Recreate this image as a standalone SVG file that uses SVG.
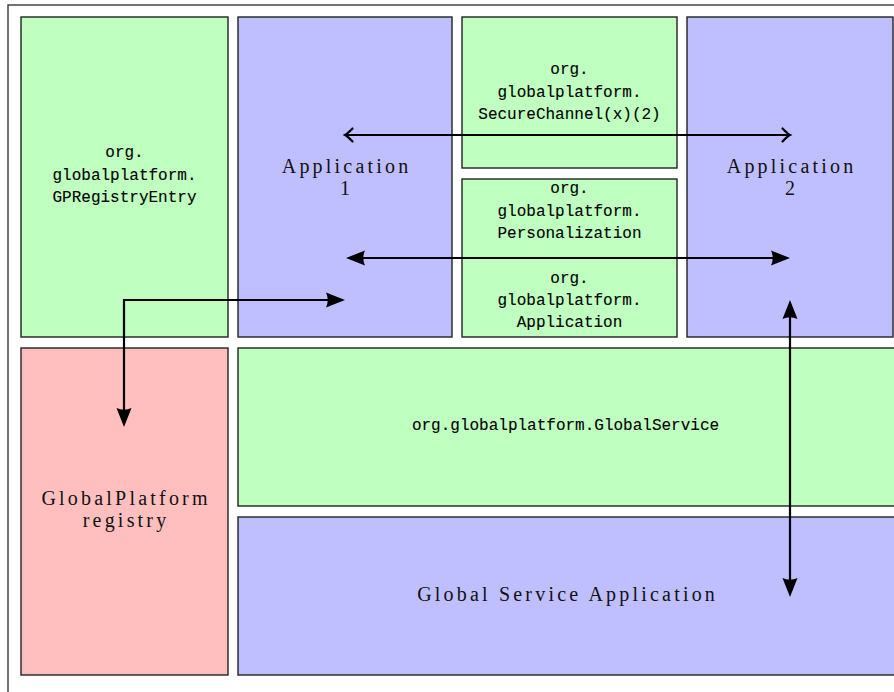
<svg xmlns="http://www.w3.org/2000/svg" width="894" height="692" viewBox="0 0 894 692">
<defs>
<style>
.box{stroke:#222;stroke-width:1.4}
.g{fill:#bfffbf}
.b{fill:#bfbfff}
.r{fill:#ffbfbf}
.tt{font-family:"Liberation Mono","DejaVu Sans Mono",monospace;font-size:16px;fill:#000;stroke:#000;stroke-width:0.1;text-anchor:middle}
.rm{font-family:"Liberation Serif","DejaVu Serif",serif;font-size:20px;fill:#111;text-anchor:middle;letter-spacing:3.2px}
.conn{fill:none;stroke:#000;stroke-width:2.2}
</style>
<marker id="open" markerUnits="userSpaceOnUse" markerWidth="20" markerHeight="20" refX="0" refY="0" viewBox="-10 -10 20 20" orient="auto-start-reverse" overflow="visible">
<path d="M-6.5,-6.5 Q-1.5,-1.3 1,0 Q-1.5,1.3 -6.5,6.5" fill="none" stroke="#000" stroke-width="2.2" stroke-linecap="round"/>
</marker>
<marker id="latex" markerUnits="userSpaceOnUse" markerWidth="30" markerHeight="30" refX="0" refY="0" viewBox="-20 -10 30 20" orient="auto-start-reverse" overflow="visible">
<path d="M6,0 L-13,-7.5 Q-9.5,0 -13,7.5 Z" fill="#000"/>
</marker>
</defs>
<rect x="8" y="5" width="892" height="695" fill="#fff" stroke="#444" stroke-width="1.5"/>

<g id="gpregistryentry">
<rect class="box g" x="21" y="17" width="207" height="320"/>
<text class="tt" x="124.5" y="157">org.</text>
<text class="tt" x="124.5" y="180">globalplatform.</text>
<text class="tt" x="124.5" y="202">GPRegistryEntry</text>
</g>
<g id="application1">
<rect class="box b" x="238" y="17" width="214" height="320"/>
<text class="rm" x="346.6" y="173">Application</text>
<text class="rm" x="346.6" y="195">1</text>
</g>
<g id="securechannel">
<rect class="box g" x="462" y="17" width="215" height="151"/>
<text class="tt" x="569.5" y="74">org.</text>
<text class="tt" x="569.5" y="97">globalplatform.</text>
<text class="tt" x="569.5" y="119">SecureChannel(x)(2)</text>
</g>
<g id="personalization-application">
<rect class="box g" x="462" y="179" width="215" height="158"/>
<text class="tt" x="569.5" y="193">org.</text>
<text class="tt" x="569.5" y="216">globalplatform.</text>
<text class="tt" x="569.5" y="238">Personalization</text>
<text class="tt" x="569.5" y="283">org.</text>
<text class="tt" x="569.5" y="305">globalplatform.</text>
<text class="tt" x="569.5" y="327">Application</text>
</g>
<g id="application2">
<rect class="box b" x="687" y="17" width="206" height="320"/>
<text class="rm" x="791.6" y="173">Application</text>
<text class="rm" x="791.6" y="195">2</text>
</g>
<g id="registry">
<rect class="box r" x="21" y="348" width="207" height="327"/>
<text class="rm" x="126.1" y="505">GlobalPlatform</text>
<text class="rm" x="126.1" y="527">registry</text>
</g>
<g id="globalservice">
<rect class="box g" x="238" y="348" width="660" height="158"/>
<text class="tt" x="565.5" y="430">org.globalplatform.GlobalService</text>
</g>
<g id="globalserviceapp">
<rect class="box b" x="238" y="517" width="660" height="158"/>
<text class="rm" x="567.6" y="601">Global Service Application</text>
</g>

<g id="connectors">
<line class="conn" x1="346" y1="135" x2="789" y2="135" marker-start="url(#open)" marker-end="url(#open)"/>
<line class="conn" x1="352" y1="258" x2="784" y2="258" marker-start="url(#latex)" marker-end="url(#latex)"/>
<polyline class="conn" points="124,421 124,300 339,300" marker-start="url(#latex)" marker-end="url(#latex)"/>
<line class="conn" x1="790" y1="306" x2="790" y2="591" marker-start="url(#latex)" marker-end="url(#latex)"/>
</g>
</svg>
